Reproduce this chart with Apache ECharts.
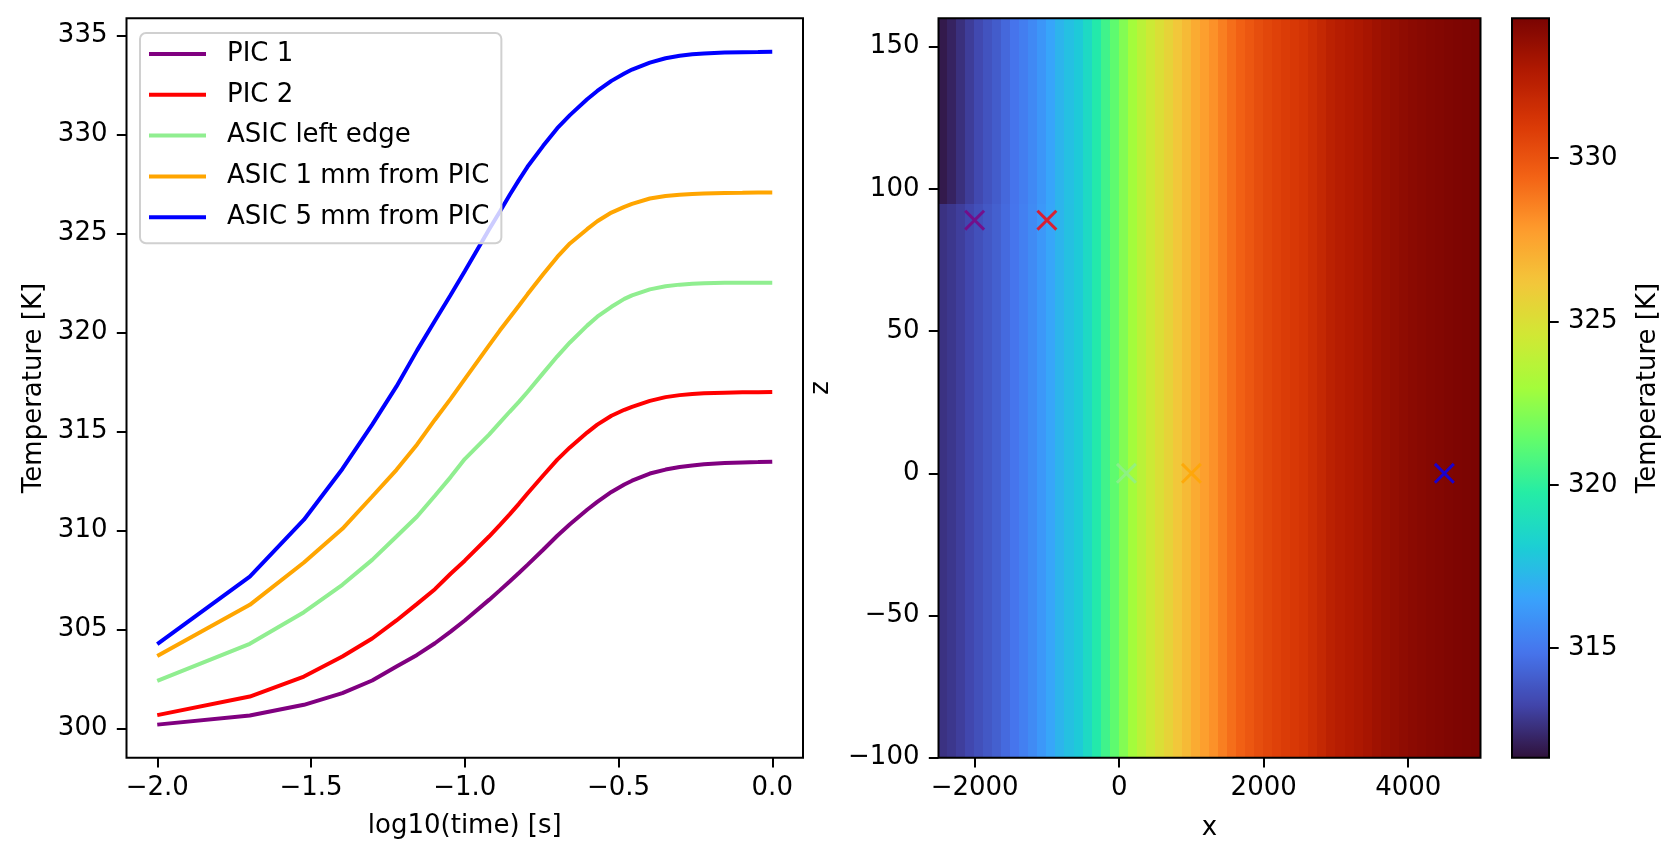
<!DOCTYPE html>
<html>
<head>
<meta charset="utf-8">
<script src="https://cdn.jsdelivr.net/npm/echarts@6/dist/echarts.min.js"></script>
<style>
  html, body { margin: 0; padding: 0; background: #fff; }
  #chart { width: 1677px; height: 861px; }
</style>
</head>
<body>
<div id="chart"></div>
<script>
// left panel: temperature vs log10(time)
var logTime = [-2, -1.699, -1.523, -1.398, -1.301, -1.222, -1.155, -1.097, -1.046, -1,
  -0.921, -0.886, -0.854, -0.824, -0.796, -0.745, -0.699, -0.658, -0.602, -0.569,
  -0.523, -0.481, -0.456, -0.398, -0.347, -0.301, -0.260, -0.222, -0.155, -0.097,
  -0.046, 0];
var pic1 = [300.20, 300.66, 301.20, 301.79, 302.43, 303.13, 303.72, 304.31, 304.90, 305.46,
  306.50, 306.98, 307.43, 307.86, 308.27, 309.03, 309.74, 310.32, 311.05, 311.45,
  311.95, 312.33, 312.52, 312.88, 313.08, 313.21, 313.29, 313.35, 313.41, 313.44,
  313.46, 313.48];
var pic2 = [300.68, 301.62, 302.63, 303.64, 304.55, 305.46, 306.30, 307.04, 307.82, 308.48,
  309.70, 310.28, 310.82, 311.35, 311.87, 312.78, 313.58, 314.20, 314.95, 315.35,
  315.80, 316.10, 316.25, 316.55, 316.74, 316.84, 316.90, 316.93, 316.96, 316.98,
  316.99, 317.00];
var asicEdge = [302.41, 304.28, 305.88, 307.26, 308.52, 309.70, 310.71, 311.76, 312.70, 313.61,
  314.85, 315.45, 316.00, 316.50, 317.00, 317.95, 318.80, 319.50, 320.35, 320.80,
  321.30, 321.70, 321.88, 322.18, 322.34, 322.42, 322.46, 322.49, 322.51, 322.52,
  322.52, 322.52];
var asic1mm = [303.67, 306.25, 308.39, 310.09, 311.72, 313.07, 314.35, 315.60, 316.65, 317.65,
  319.35, 320.10, 320.75, 321.35, 321.93, 322.94, 323.82, 324.50, 325.22, 325.62,
  326.06, 326.35, 326.50, 326.77, 326.90, 326.96, 327.00, 327.02, 327.05, 327.06,
  327.07, 327.07];
var asic5mm = [304.27, 307.68, 310.55, 313.11, 315.35, 317.28, 319.10, 320.60, 321.90, 323.10,
  325.20, 326.10, 326.95, 327.70, 328.37, 329.43, 330.32, 330.98, 331.78, 332.20,
  332.71, 333.08, 333.28, 333.63, 333.85, 333.98, 334.05, 334.09, 334.14, 334.16,
  334.17, 334.18];

var seriesNames = ['PIC 1', 'PIC 2', 'ASIC left edge', 'ASIC 1 mm from PIC', 'ASIC 5 mm from PIC'];
var seriesColors = ['#800080', '#ff0000', '#90ee90', '#ffa500', '#0000ff'];
var seriesValues = [pic1, pic2, asicEdge, asic1mm, asic5mm];

var timeTicks = [-2, -1.5, -1, -0.5, 0];
var tempTicks = [300, 305, 310, 315, 320, 325, 330, 335];

// right panel: temperature map over x/z
var colStart = [-2500, -2375, -2250, -2125, -2000, -1875, -1750, -1625, -1500, -1375,
  -1250, -1125, -1000, -875, -750, -625, -500, -375, -250, -125,
  0, 125, 250, 375, 500, 625, 750, 875, 1000, 1125,
  1250, 1375, 1500, 1625, 1750, 1875, 2000, 2125, 2250, 2375,
  2500, 2625, 2750, 2875, 3000, 3125, 3250, 3375, 3500, 3625,
  3750, 3875, 4000, 4125, 4250, 4375, 4500, 4625, 4750, 4875];
var colWidth = 125;
var rowEdges = [-100, 95, 160];
var tempLower = [312.67, 312.83, 313.05, 313.35, 313.64, 313.91, 314.16, 314.52, 314.89, 315.27,
  315.66, 316.13, 316.63, 317.15, 317.58, 317.94, 318.67, 319.57, 320.48, 321.27,
  322.17, 322.97, 323.76, 324.39, 325.00, 325.57, 326.13, 326.65, 327.22, 327.67,
  328.10, 328.62, 329.12, 329.53, 329.87, 330.21, 330.48, 330.70, 330.91, 331.07,
  331.23, 331.56, 331.90, 332.24, 332.47, 332.63, 332.77, 332.97, 333.19, 333.37,
  333.53, 333.67, 333.78, 333.87, 333.96, 334.03, 334.10, 334.17, 334.21, 334.26];
var tempUpper = [311.90, 312.20, 312.60, 313.00, 313.40, 313.75, 314.05, 314.45, 314.85, 315.22,
  315.60, 316.08, 316.60, 317.13, 317.56, 317.94, 318.67, 319.57, 320.48, 321.27,
  322.17, 322.97, 323.76, 324.39, 325.00, 325.57, 326.13, 326.65, 327.22, 327.67,
  328.10, 328.62, 329.12, 329.53, 329.87, 330.21, 330.48, 330.70, 330.91, 331.07,
  331.23, 331.56, 331.90, 332.24, 332.47, 332.63, 332.77, 332.97, 333.19, 333.37,
  333.53, 333.67, 333.78, 333.87, 333.96, 334.03, 334.10, 334.17, 334.21, 334.26];

var markerX = [-2000, -1000, 100, 1000, 4500];
var markerZ = [89, 89, 0, 0, 0];

var xTicks = [-2000, 0, 2000, 4000];
var zTicks = [-100, -50, 0, 50, 100, 150];
var barTicks = [315, 320, 325, 330];
var tempMin = 311.65;
var tempMax = 334.28;

var turbo = ['#30123b', '#4145ab', '#4675ed', '#39a2fc', '#1bcfd4', '#24eca6', '#61fc6c',
  '#a4fc3b', '#d1e834', '#f3c63a', '#fe9b2d', '#f36315', '#d93806', '#b11901', '#7a0402'];

var FONT = 'DejaVu Sans';
var FS = 26;

function minusFmt(digits) {
  return function (v) {
    var s = Math.abs(v).toFixed(digits);
    return v < 0 ? '\u2212' + s : s;
  };
}

function valueAxis(o) {
  return {
    type: 'value',
    gridIndex: o.grid,
    min: o.min,
    max: o.max,
    position: o.position,
    name: o.name,
    nameLocation: 'middle',
    nameGap: o.nameGap,
    nameTextStyle: { fontSize: FS, color: '#000', fontFamily: FONT },
    axisLine: { show: false, onZero: false },
    axisTick: { show: true, customValues: o.ticks, length: 9.7, lineStyle: { color: '#000', width: 2 } },
    axisLabel: { customValues: o.ticks, formatter: o.fmt, margin: o.margin, color: '#000', fontSize: FS, fontFamily: FONT },
    splitLine: { show: false }
  };
}

var heatData = [];
for (var i = 0; i < colStart.length; i++) {
  heatData.push([colStart[i], colStart[i] + colWidth, rowEdges[0], rowEdges[1], tempLower[i]]);
  heatData.push([colStart[i], colStart[i] + colWidth, rowEdges[1], rowEdges[2], tempUpper[i]]);
}

var markerPath = 'path://M0,1 L1,0 L5,4 L9,0 L10,1 L6,5 L10,9 L9,10 L5,6 L1,10 L0,9 L4,5 Z';

var series = seriesNames.map(function (name, k) {
  return {
    name: name,
    type: 'line',
    xAxisIndex: 0,
    yAxisIndex: 0,
    data: logTime.map(function (t, j) { return [t, seriesValues[k][j]]; }),
    showSymbol: false,
    lineStyle: { width: 4, color: seriesColors[k] },
    itemStyle: { color: seriesColors[k] },
    animation: false
  };
});

series.push({
  type: 'custom',
  xAxisIndex: 1,
  yAxisIndex: 1,
  data: heatData,
  encode: { x: [0, 1], y: [2, 3] },
  clip: true,
  animation: false,
  renderItem: function (params, api) {
    var p0 = api.coord([api.value(0), api.value(3)]);
    var p1 = api.coord([api.value(1), api.value(2)]);
    var x0 = Math.floor(p0[0]), y0 = Math.floor(p0[1]);
    var x1 = Math.ceil(p1[0]), y1 = Math.ceil(p1[1]);
    return {
      type: 'rect',
      shape: { x: x0, y: y0, width: x1 - x0, height: y1 - y0 },
      style: { fill: api.visual('color') }
    };
  }
});

series.push({
  type: 'scatter',
  xAxisIndex: 1,
  yAxisIndex: 1,
  symbol: markerPath,
  symbolSize: 21,
  z: 5,
  animation: false,
  data: markerX.map(function (x, k) {
    return { value: [x, markerZ[k]], itemStyle: { color: seriesColors[k] } };
  })
});

var option = {
  backgroundColor: '#fff',
  animation: false,
  textStyle: { fontFamily: FONT },
  grid: [
    { left: 126.5, top: 18.3, width: 676.5, height: 739.4, show: true, borderColor: '#000', borderWidth: 2, z: 10 },
    { left: 938.5, top: 18.3, width: 542, height: 739.4, show: true, borderColor: '#000', borderWidth: 2, z: 10 },
    { left: 1512, top: 18.3, width: 37, height: 739.4, show: true, borderColor: '#000', borderWidth: 2, z: 10 }
  ],
  xAxis: [
    valueAxis({ grid: 0, min: -2.1, max: 0.1, ticks: timeTicks, fmt: minusFmt(1), margin: 18,
      name: 'log10(time) [s]', nameGap: 56 }),
    valueAxis({ grid: 1, min: -2500, max: 5000, ticks: xTicks, fmt: minusFmt(0), margin: 18,
      name: 'x', nameGap: 58 }),
    { type: 'value', gridIndex: 2, min: 0, max: 1, show: false }
  ],
  yAxis: [
    valueAxis({ grid: 0, min: 298.53, max: 335.87, ticks: tempTicks, fmt: minusFmt(0), margin: 19,
      name: 'Temperature [K]', nameGap: 79 }),
    valueAxis({ grid: 1, min: -100, max: 160, ticks: zTicks, fmt: minusFmt(0), margin: 19,
      name: 'z', nameGap: 104 }),
    valueAxis({ grid: 2, min: tempMin, max: tempMax, ticks: barTicks, fmt: minusFmt(0), margin: 19,
      position: 'right', name: 'Temperature [K]', nameGap: 86 })
  ],
  legend: {
    data: seriesNames,
    orient: 'vertical',
    left: 140,
    top: 33,
    icon: 'rect',
    itemWidth: 57,
    itemHeight: 4,
    itemGap: 14.8,
    padding: [8, 12, 13, 9],
    backgroundColor: 'rgba(255,255,255,0.8)',
    borderColor: '#d0d0d0',
    borderWidth: 2,
    borderRadius: 6,
    selectedMode: false,
    textStyle: { fontSize: FS, color: '#000', fontFamily: FONT, lineHeight: 26, padding: [0, 0, 0, 16] }
  },
  visualMap: {
    type: 'continuous',
    seriesIndex: 5,
    dimension: 4,
    min: tempMin,
    max: tempMax,
    inRange: { color: turbo },
    calculable: false,
    hoverLink: false,
    left: 1512,
    top: 18.3,
    itemWidth: 37,
    itemHeight: 739.4,
    padding: 0,
    text: null
  },
  series: series
};

var chart = echarts.init(document.getElementById('chart'));
chart.setOption(option);
</script>
</body>
</html>
